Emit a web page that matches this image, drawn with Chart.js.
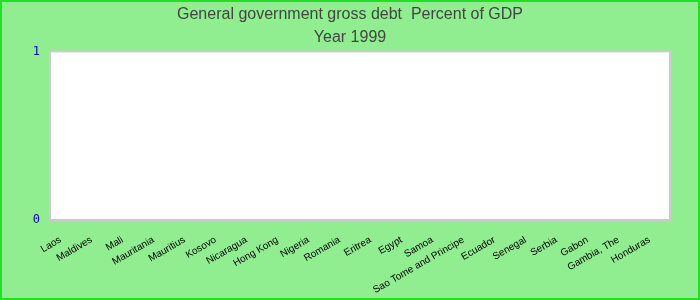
<!DOCTYPE html>
<html>
<head>
<meta charset="utf-8">
<script src="https://cdn.jsdelivr.net/npm/chart.js@4"></script>
<style>
    body { margin: 0; background: #fff; }
    #wrap { width: 700px; height: 300px; }
</style>
</head>
<body>
<div id="wrap"><canvas id="debtChart" width="700" height="300"></canvas></div>
<script>
// Chart data
const countries = ["Laos", "Maldives", "Mali", "Mauritania", "Mauritius", "Kosovo", "Nicaragua",
    "Hong Kong", "Nigeria", "Romania", "Eritrea", "Egypt", "Samoa", "Sao Tome and Principe",
    "Ecuador", "Senegal", "Serbia", "Gabon", "Gambia, The", "Honduras"];
// no values reported for 1999 in the picture
const debtValues = [null, null, null, null, null, null, null, null, null, null,
    null, null, null, null, null, null, null, null, null, null];
const yTicks = [0, 1];
const titleLines = ["General government gross debt  Percent of GDP", "Year 1999"];

// Page background, outer border and white plot area
const backdrop = {
    id: 'backdrop',
    beforeDraw(chart) {
        const { ctx, width, height, chartArea } = chart;
        ctx.save();
        ctx.fillStyle = '#90ee90';
        ctx.fillRect(0, 0, width, height);
        ctx.strokeStyle = '#22e022';
        ctx.lineWidth = 2;
        ctx.strokeRect(1, 1, width - 2, height - 2);
        ctx.fillStyle = '#ffffff';
        ctx.fillRect(chartArea.left, chartArea.top, chartArea.width, chartArea.height);
        ctx.strokeStyle = '#cccccc';
        ctx.lineWidth = 2;
        ctx.strokeRect(chartArea.left, chartArea.top, chartArea.width, chartArea.height);
        ctx.restore();
    }
};

const chart = new Chart(document.getElementById('debtChart'), {
    type: 'bar',
    data: {
        labels: countries,
        datasets: [{
            label: 'Percent of GDP',
            data: debtValues,
            backgroundColor: '#4472c4'
        }]
    },
    options: {
        responsive: false,
        animation: false,
        layout: { padding: 0 },
        plugins: {
            legend: { display: false },
            tooltip: { enabled: false },
            title: {
                display: true,
                text: titleLines,
                color: '#444444',
                font: { family: 'Liberation Sans, Arial', size: 16, weight: 'normal', lineHeight: 1.45 },
                padding: { top: 3, bottom: 2 }
            }
        },
        scales: {
            x: {
                grid: { display: false },
                border: { display: false },
                ticks: {
                    color: '#000000',
                    font: { family: 'Liberation Sans, Arial', size: 10 },
                    minRotation: 30,
                    maxRotation: 30,
                    autoSkip: false,
                    labelOffset: -5,
                    padding: 6
                },
                afterFit(scale) { scale.height = 80; }
            },
            y: {
                min: 0,
                max: 1,
                grid: { display: false },
                border: { display: false },
                afterBuildTicks(scale) { scale.ticks = yTicks.map(v => ({ value: v })); },
                ticks: {
                    color: '#0000aa',
                    font: { family: 'DejaVu Sans Mono', size: 12 },
                    padding: 2
                },
                afterFit(scale) { scale.width = 50; }
            },
            // empty strip on the right so the title stays centred on the page
            yRight: {
                position: 'right',
                min: 0,
                max: 1,
                grid: { display: false },
                border: { display: false },
                ticks: { display: false },
                afterFit(scale) { scale.width = 30; }
            }
        }
    },
    plugins: [backdrop]
});
</script>
</body>
</html>
